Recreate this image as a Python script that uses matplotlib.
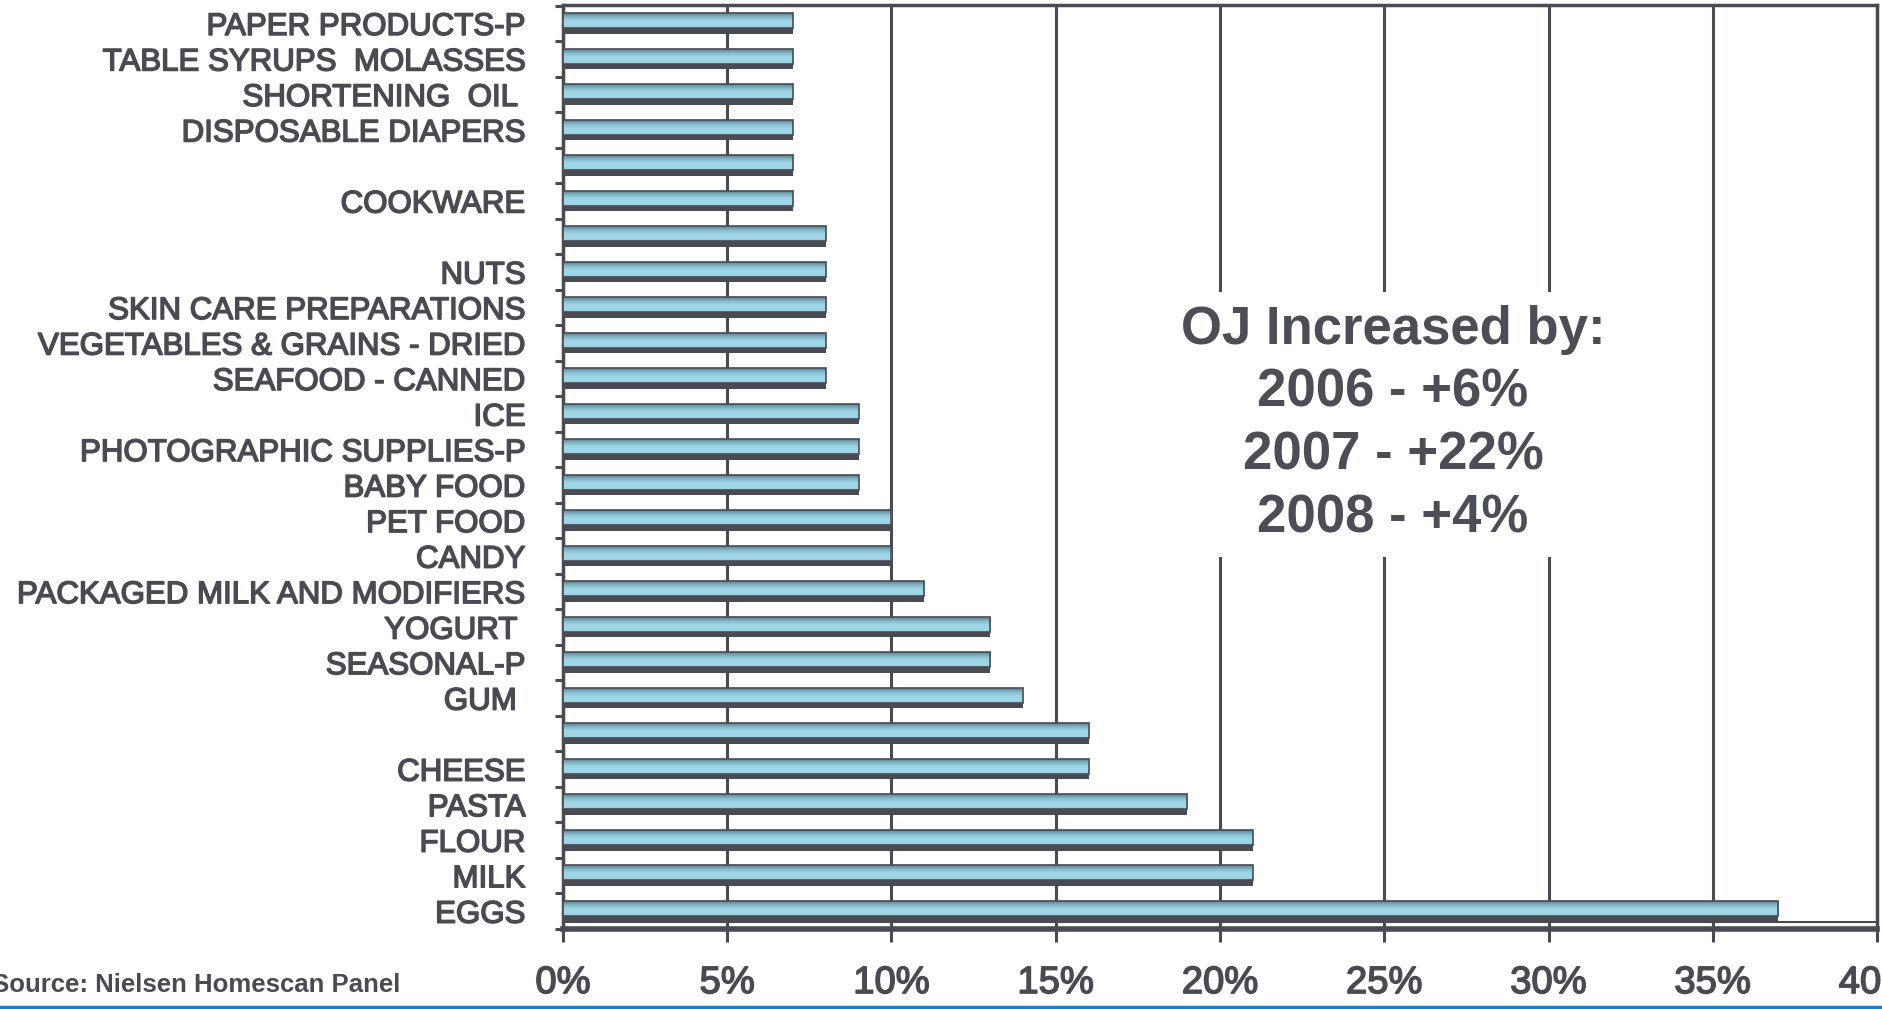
import numpy as np
import matplotlib
matplotlib.use("Agg")
import matplotlib.pyplot as plt
import matplotlib.patheffects as pe
from matplotlib.colors import LinearSegmentedColormap
from matplotlib.lines import Line2D

# === Dados (de cima para baixo, como no grafico) ===
categorias = [
    "PAPER PRODUCTS-P", "TABLE SYRUPS  MOLASSES", "SHORTENING  OIL ",
    "DISPOSABLE DIAPERS", "", "COOKWARE", "", "NUTS",
    "SKIN CARE PREPARATIONS", "VEGETABLES & GRAINS - DRIED",
    "SEAFOOD - CANNED", "ICE", "PHOTOGRAPHIC SUPPLIES-P", "BABY FOOD",
    "PET FOOD", "CANDY", "PACKAGED MILK AND MODIFIERS", "YOGURT ",
    "SEASONAL-P", "GUM ", "", "CHEESE", "PASTA", "FLOUR", "MILK", "EGGS",
]
valores = [7, 7, 7, 7, 7, 7, 8, 8, 8, 8, 8, 9, 9, 9, 10, 10, 11, 13, 13, 14,
           16, 16, 19, 21, 21, 37]
x_ticks = [0, 5, 10, 15, 20, 25, 30, 35, 40]
x_labels = ["0%", "5%", "10%", "15%", "20%", "25%", "30%", "35%", "40%"]
nota = "OJ Increased by:\n2006 - +6%\n2007 - +22%\n2008 - +4%"
fonte = "Source: Nielsen Homescan Panel"

cinza = "#4a4b52"
n = len(categorias)
y = np.arange(n)[::-1]  # EGGS em baixo

fig = plt.figure(figsize=(18.83, 10.09), dpi=100)
ax = fig.add_axes([563 / 1883, 1 - 929 / 1009, (1877 - 563) / 1883, (929 - 5) / 1009])

# sombra escura das barras
ax.barh(y - 0.07, valores, height=0.44, color=cinza, zorder=2.5)
# parte clara das barras (contorno), preenchida com gradiente
barras = ax.barh(y + 0.08, valores, height=0.42, facecolor="none",
                 edgecolor=cinza, linewidth=1.2, zorder=4)
grad = np.linspace(0, 1, 64).reshape(-1, 1)
cmap = LinearSegmentedColormap.from_list(
    "barra", ["#96cfe0", "#a0d8ea", "#9cd4e6", "#84b6c6", "#5b8090"])
for b in barras:
    x0, y0, w, h = b.get_x(), b.get_y(), b.get_width(), b.get_height()
    im = ax.imshow(grad, extent=[x0, x0 + w, y0, y0 + h], origin="lower",
                   cmap=cmap, aspect="auto", interpolation="bicubic", zorder=3)
    im.set_clip_path(b)

ax.set_xlim(0, 40)
ax.set_ylim(-0.48, n - 0.48)

# grade vertical
ax.set_axisbelow(True)
ax.grid(axis="x", color=cinza, linewidth=2.2)
ax.axhline(-0.29, color=cinza, linewidth=1.5, zorder=2)

ax.set_xticks(x_ticks)
ax.set_xticklabels(x_labels, fontsize=27.5, color=cinza)
ax.set_yticks(y)
ax.set_yticklabels(categorias, fontsize=22.5, color=cinza)
ax.set_yticks(np.arange(n + 1) - 0.5, minor=True)
ax.tick_params(axis="y", which="major", length=0, pad=27)
ax.tick_params(axis="y", which="minor", length=6, width=2.2, color=cinza)
ax.tick_params(axis="x", length=9, width=2.2, color=cinza, pad=17)

for lado, lw in [("top", 2.5), ("right", 2.5), ("left", 2.5), ("bottom", 4)]:
    ax.spines[lado].set_color(cinza)
    ax.spines[lado].set_linewidth(lw)

engrossa = [pe.withStroke(linewidth=1.1, foreground=cinza)]
for t in ax.get_xticklabels() + ax.get_yticklabels():
    t.set_family("Liberation Sans")
    t.set_path_effects(engrossa)

# caixa de texto
ax.text(0.6317, 0.5465, nota, transform=ax.transAxes, ha="center", va="center",
        fontsize=38, fontweight="bold", color="#4d4e55", linespacing=1.33,
        family="Liberation Sans", zorder=6,
        bbox=dict(boxstyle="square,pad=0.25", facecolor="white", edgecolor="none"))

fig.text(-0.004, 1 - 985 / 1009, fonte, ha="left", va="center", fontsize=18.5,
         fontweight="bold", color=cinza, family="Liberation Sans")
fig.add_artist(Line2D([0, 1], [0.0015, 0.0015], transform=fig.transFigure,
                      color="#1b7fc6", linewidth=2.5))

fig.savefig("out.png", dpi=100)
